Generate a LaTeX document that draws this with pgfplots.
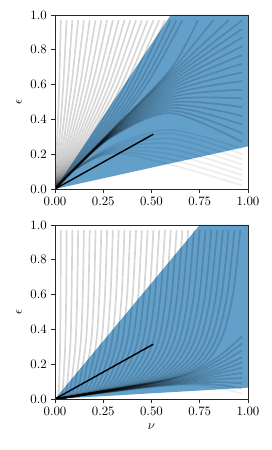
\documentclass[border=0pt]{standalone}
\usepackage{pgfplots}
\pgfplotsset{compat=1.18}
\definecolor{tabblue}{HTML}{1F77B4}
\pgfplotsset{
  tr/.style={black, opacity=0.16, line width=1.3pt, smooth, tension=0.5, forget plot},
  trl/.style={black, opacity=0.07, line width=1.3pt, smooth, tension=0.5, forget plot},
  myax/.style={
    scale only axis, width=150.5pt, height=135.7pt,
    anchor=south west,
    xmin=0, xmax=1, ymin=0, ymax=1,
    xtick={0,0.25,0.5,0.75,1}, ytick={0,0.2,0.4,0.6,0.8,1},
    xticklabel style={/pgf/number format/.cd, fixed, fixed zerofill, precision=2},
    yticklabel style={/pgf/number format/.cd, fixed, fixed zerofill, precision=1},
    tick align=outside, tick pos=left, major tick length=2.8pt,
    axis line style={black!85, line width=0.6pt},
    every tick/.style={black!85, line width=0.6pt},
    ylabel={$\epsilon$},
    clip=true,
    axis on top,
  }
}
\begin{document}
\begin{tikzpicture}
\path[use as bounding box] (0,0) rectangle (211.4pt,351pt);
% ---------------- top axis ----------------
\begin{axis}[myax, at={(42.9pt,203.6pt)}]
% stable region
\addplot[draw=none, fill=tabblue, fill opacity=0.7, forget plot] coordinates {(0,0)(0.6,1)(1,1)(1,0.245)(0,0)};
% trajectories from the top edge
\addplot[tr] coordinates {(0.03,0.97)(0.022,0.6)(0.012,0.3)(0,0)};
\addplot[tr] coordinates {(0.06,0.97)(0.043,0.6)(0.024,0.3)(0,0)};
\addplot[tr] coordinates {(0.09,0.97)(0.065,0.6)(0.036,0.3)(0,0)};
\addplot[tr] coordinates {(0.12,0.97)(0.086,0.6)(0.048,0.3)(0,0)};
\addplot[tr] coordinates {(0.15,0.97)(0.108,0.6)(0.060,0.3)(0,0)};
\addplot[tr] coordinates {(0.18,0.97)(0.130,0.6)(0.072,0.3)(0,0)};
\addplot[tr] coordinates {(0.21,0.97)(0.151,0.6)(0.084,0.3)(0,0)};
\addplot[tr] coordinates {(0.24,0.97)(0.173,0.6)(0.096,0.3)(0,0)};
\addplot[tr] coordinates {(0.27,0.97)(0.194,0.6)(0.108,0.3)(0,0)};
\addplot[tr] coordinates {(0.30,0.97)(0.216,0.6)(0.120,0.3)(0,0)};
\addplot[tr] coordinates {(0.33,0.97)(0.238,0.6)(0.132,0.3)(0,0)};
\addplot[tr] coordinates {(0.36,0.97)(0.259,0.6)(0.144,0.3)(0,0)};
\addplot[tr] coordinates {(0.39,0.97)(0.281,0.6)(0.156,0.3)(0,0)};
\addplot[tr] coordinates {(0.42,0.97)(0.302,0.6)(0.168,0.3)(0,0)};
\addplot[tr] coordinates {(0.45,0.97)(0.324,0.6)(0.180,0.3)(0,0)};
\addplot[tr] coordinates {(0.48,0.97)(0.346,0.6)(0.192,0.3)(0,0)};
\addplot[tr] coordinates {(0.51,0.97)(0.367,0.6)(0.204,0.3)(0,0)};
\addplot[tr] coordinates {(0.54,0.97)(0.389,0.6)(0.216,0.3)(0,0)};
\addplot[tr] coordinates {(0.57,0.97)(0.410,0.6)(0.228,0.3)(0,0)};
\addplot[tr] coordinates {(0.60,0.97)(0.432,0.6)(0.240,0.3)(0,0)};
\addplot[tr] coordinates {(0.63,0.97)(0.454,0.6)(0.252,0.3)(0,0)};
\addplot[tr] coordinates {(0.66,0.97)(0.475,0.6)(0.264,0.3)(0,0)};
% trajectories from the right edge, low start
\addplot[trl] coordinates {(0.97,0.02)(0.6,0.14)(0.3,0.204)(0.1,0.11)(0,0)};
\addplot[trl] coordinates {(0.97,0.05)(0.6,0.17)(0.3,0.210)(0.1,0.11)(0,0)};
\addplot[trl] coordinates {(0.97,0.08)(0.6,0.20)(0.3,0.216)(0.1,0.11)(0,0)};
\addplot[trl] coordinates {(0.97,0.11)(0.6,0.23)(0.3,0.222)(0.1,0.11)(0,0)};
\addplot[trl] coordinates {(0.97,0.14)(0.6,0.26)(0.3,0.228)(0.1,0.11)(0,0)};
\addplot[trl] coordinates {(0.97,0.17)(0.6,0.29)(0.3,0.234)(0.1,0.11)(0,0)};
\addplot[trl] coordinates {(0.97,0.20)(0.6,0.32)(0.3,0.240)(0.1,0.11)(0,0)};
\addplot[trl] coordinates {(0.97,0.23)(0.6,0.34)(0.3,0.250)(0.1,0.112)(0,0)};
% trajectories from the right edge
\addplot[tr] coordinates {(0.97,0.27)(0.6,0.436)(0.3,0.303)(0.1,0.114)(0,0)};
\addplot[tr] coordinates {(0.97,0.32)(0.6,0.451)(0.3,0.305)(0.1,0.114)(0,0)};
\addplot[tr] coordinates {(0.97,0.37)(0.6,0.466)(0.3,0.308)(0.1,0.114)(0,0)};
\addplot[tr] coordinates {(0.97,0.42)(0.6,0.481)(0.3,0.310)(0.1,0.114)(0,0)};
\addplot[tr] coordinates {(0.97,0.47)(0.6,0.496)(0.3,0.313)(0.1,0.115)(0,0)};
\addplot[tr] coordinates {(0.97,0.52)(0.6,0.511)(0.3,0.315)(0.1,0.115)(0,0)};
\addplot[tr] coordinates {(0.97,0.57)(0.6,0.526)(0.3,0.318)(0.1,0.115)(0,0)};
\addplot[tr] coordinates {(0.97,0.62)(0.6,0.541)(0.3,0.320)(0.1,0.115)(0,0)};
\addplot[tr] coordinates {(0.97,0.67)(0.6,0.556)(0.3,0.323)(0.1,0.115)(0,0)};
\addplot[tr] coordinates {(0.97,0.72)(0.6,0.571)(0.3,0.325)(0.1,0.115)(0,0)};
\addplot[tr] coordinates {(0.97,0.77)(0.6,0.586)(0.3,0.328)(0.1,0.115)(0,0)};
\addplot[tr] coordinates {(0.97,0.82)(0.6,0.601)(0.3,0.330)(0.1,0.115)(0,0)};
\addplot[tr] coordinates {(0.97,0.87)(0.6,0.616)(0.3,0.333)(0.1,0.115)(0,0)};
\addplot[tr] coordinates {(0.97,0.92)(0.6,0.631)(0.3,0.335)(0.1,0.115)(0,0)};
\addplot[tr] coordinates {(0.97,0.97)(0.6,0.646)(0.3,0.338)(0.1,0.115)(0,0)};
\addplot[tr] coordinates {(0.90,0.97)(0.6,0.660)(0.3,0.340)(0.1,0.115)(0,0)};
\addplot[tr] coordinates {(0.82,0.97)(0.6,0.675)(0.3,0.342)(0.1,0.115)(0,0)};
\addplot[tr] coordinates {(0.74,0.97)(0.6,0.690)(0.3,0.344)(0.1,0.115)(0,0)};
\addplot[black, line width=1.1pt, forget plot] coordinates {(0,0)(0.51,0.315)};
\end{axis}
% ---------------- bottom axis ----------------
\begin{axis}[myax, at={(42.9pt,39.8pt)}, xlabel={$\nu$}]
% stable region
\addplot[draw=none, fill=tabblue, fill opacity=0.7, forget plot] coordinates {(0,0)(0.75,1)(1,1)(1,0.065)(0,0)};
\addplot[tr] coordinates {(0.03,0.97)(0.029,0.6)(0.027,0.35)(0.024,0.2)(0.018,0.023)(0,0)};
\addplot[tr] coordinates {(0.06,0.97)(0.058,0.6)(0.054,0.35)(0.048,0.2)(0.036,0.025)(0,0)};
\addplot[tr] coordinates {(0.09,0.97)(0.086,0.6)(0.081,0.35)(0.072,0.2)(0.054,0.028)(0,0)};
\addplot[tr] coordinates {(0.12,0.97)(0.115,0.6)(0.108,0.35)(0.096,0.2)(0.072,0.031)(0,0)};
\addplot[tr] coordinates {(0.15,0.97)(0.144,0.6)(0.135,0.35)(0.120,0.2)(0.090,0.034)(0,0)};
\addplot[tr] coordinates {(0.18,0.97)(0.173,0.6)(0.162,0.35)(0.144,0.2)(0.108,0.036)(0,0)};
\addplot[tr] coordinates {(0.21,0.97)(0.202,0.6)(0.189,0.35)(0.168,0.2)(0.126,0.039)(0,0)};
\addplot[tr] coordinates {(0.24,0.97)(0.230,0.6)(0.216,0.35)(0.192,0.2)(0.144,0.042)(0,0)};
\addplot[tr] coordinates {(0.27,0.97)(0.259,0.6)(0.243,0.35)(0.216,0.2)(0.162,0.044)(0,0)};
\addplot[tr] coordinates {(0.30,0.97)(0.288,0.6)(0.270,0.35)(0.240,0.2)(0.180,0.047)(0,0)};
\addplot[tr] coordinates {(0.33,0.97)(0.317,0.6)(0.297,0.35)(0.264,0.2)(0.198,0.050)(0,0)};
\addplot[tr] coordinates {(0.36,0.97)(0.346,0.6)(0.324,0.35)(0.288,0.2)(0.216,0.052)(0,0)};
\addplot[tr] coordinates {(0.39,0.97)(0.374,0.6)(0.351,0.35)(0.312,0.2)(0.234,0.055)(0,0)};
\addplot[tr] coordinates {(0.42,0.97)(0.403,0.6)(0.378,0.35)(0.336,0.2)(0.252,0.058)(0,0)};
\addplot[tr] coordinates {(0.45,0.97)(0.432,0.6)(0.405,0.35)(0.360,0.2)(0.270,0.061)(0,0)};
\addplot[tr] coordinates {(0.48,0.97)(0.461,0.6)(0.432,0.35)(0.384,0.2)(0.288,0.063)(0,0)};
\addplot[tr] coordinates {(0.51,0.97)(0.490,0.6)(0.459,0.35)(0.408,0.2)(0.306,0.066)(0,0)};
\addplot[tr] coordinates {(0.54,0.97)(0.518,0.6)(0.486,0.35)(0.432,0.2)(0.324,0.069)(0,0)};
\addplot[tr] coordinates {(0.57,0.97)(0.547,0.6)(0.513,0.35)(0.456,0.2)(0.342,0.071)(0,0)};
\addplot[tr] coordinates {(0.60,0.97)(0.576,0.6)(0.540,0.35)(0.480,0.2)(0.360,0.074)(0,0)};
\addplot[tr] coordinates {(0.63,0.97)(0.605,0.6)(0.567,0.35)(0.504,0.2)(0.378,0.077)(0,0)};
\addplot[tr] coordinates {(0.66,0.97)(0.634,0.6)(0.594,0.35)(0.528,0.2)(0.396,0.079)(0,0)};
\addplot[tr] coordinates {(0.69,0.97)(0.662,0.6)(0.621,0.35)(0.552,0.2)(0.414,0.082)(0,0)};
\addplot[tr] coordinates {(0.72,0.97)(0.691,0.6)(0.648,0.35)(0.576,0.2)(0.432,0.085)(0,0)};
\addplot[tr] coordinates {(0.75,0.97)(0.720,0.6)(0.675,0.35)(0.600,0.2)(0.450,0.088)(0,0)};
\addplot[tr] coordinates {(0.78,0.97)(0.749,0.6)(0.702,0.35)(0.624,0.2)(0.468,0.090)(0,0)};
\addplot[tr] coordinates {(0.81,0.97)(0.778,0.6)(0.729,0.35)(0.648,0.2)(0.486,0.093)(0,0)};
\addplot[tr] coordinates {(0.84,0.97)(0.806,0.6)(0.756,0.35)(0.672,0.2)(0.504,0.096)(0,0)};
\addplot[tr] coordinates {(0.87,0.97)(0.835,0.6)(0.783,0.35)(0.696,0.2)(0.522,0.098)(0,0)};
\addplot[tr] coordinates {(0.90,0.97)(0.864,0.6)(0.810,0.35)(0.720,0.2)(0.540,0.101)(0,0)};
\addplot[tr] coordinates {(0.93,0.97)(0.893,0.6)(0.837,0.35)(0.744,0.2)(0.558,0.104)(0,0)};
\addplot[tr] coordinates {(0.96,0.97)(0.922,0.6)(0.864,0.35)(0.768,0.2)(0.576,0.106)(0,0)};
% from the right edge
\addplot[trl] coordinates {(0.97,0.03)(0.85,0.064)(0.7,0.082)(0.45,0.062)(0,0)};
\addplot[tr] coordinates {(0.97,0.06)(0.85,0.081)(0.7,0.088)(0.45,0.064)(0,0)};
\addplot[tr] coordinates {(0.97,0.09)(0.85,0.097)(0.7,0.094)(0.45,0.065)(0,0)};
\addplot[tr] coordinates {(0.97,0.12)(0.85,0.114)(0.7,0.100)(0.45,0.067)(0,0)};
\addplot[tr] coordinates {(0.97,0.15)(0.85,0.130)(0.7,0.106)(0.45,0.068)(0,0)};
\addplot[tr] coordinates {(0.97,0.18)(0.85,0.147)(0.7,0.112)(0.45,0.070)(0,0)};
\addplot[tr] coordinates {(0.97,0.21)(0.85,0.163)(0.7,0.118)(0.45,0.071)(0,0)};
\addplot[tr] coordinates {(0.97,0.24)(0.85,0.180)(0.7,0.124)(0.45,0.073)(0,0)};
\addplot[tr] coordinates {(0.97,0.28)(0.85,0.202)(0.7,0.132)(0.45,0.075)(0,0)};
\addplot[tr] coordinates {(0.97,0.32)(0.85,0.224)(0.7,0.140)(0.45,0.077)(0,0)};
\addplot[tr] coordinates {(0.97,0.36)(0.85,0.246)(0.7,0.148)(0.45,0.079)(0,0)};
\addplot[black, line width=1.1pt, forget plot] coordinates {(0,0)(0.51,0.315)};
\end{axis}
\end{tikzpicture}
\end{document}
